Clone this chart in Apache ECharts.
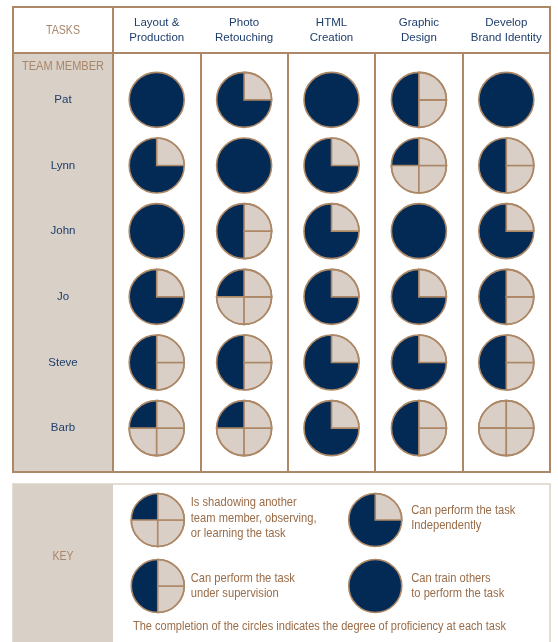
<!DOCTYPE html>
<html><head><meta charset="utf-8">
<script src="https://cdn.jsdelivr.net/npm/echarts@6/dist/echarts.min.js"></script>
<style>html,body{margin:0;padding:0;background:#fff}#c{width:558px;height:642px}</style>
</head><body><div id="c"></div>
<script>
// ---- data ----
var tasks = ['Layout &\nProduction', 'Photo\nRetouching', 'HTML\nCreation', 'Graphic\nDesign', 'Develop\nBrand Identity'];
var members = ['Pat', 'Lynn', 'John', 'Jo', 'Steve', 'Barb'];
// quarters filled (0-4), one array per member, in task order
var pat   = [4, 3, 4, 2, 4];
var lynn  = [3, 4, 3, 1, 2];
var john  = [4, 2, 3, 4, 3];
var jo    = [3, 1, 3, 3, 2];
var steve = [2, 2, 3, 3, 2];
var barb  = [1, 1, 3, 2, 0];
var keyLevels = [1, 3, 2, 4];
var keyTexts = ['Is shadowing another\nteam member, observing,\nor learning the task',
                'Can perform the task\nIndependently',
                'Can perform the task\nunder supervision',
                'Can train others\nto perform the task'];
var footnote = 'The completion of the circles indicates the degree of proficiency at each task';

// ---- styles ----
var NAVY = '#022a55', LIGHT = '#d9cfc6', TAN = '#ad8867', TANFILL = '#d9d0c8';
var NAMEC = '#1e3e6b', TANTEXT = '#a8866a', KEYTEXT = '#9a6c48';
var FONT = '"Liberation Sans", Arial, sans-serif';

var mctx = document.createElement('canvas').getContext('2d');
function fit(text, size, target) {
  mctx.font = size + 'px ' + FONT;
  return target / mctx.measureText(text).width;
}
var keyScale = fit('Is shadowing another', 13, 106);

var rows = [pat, lynn, john, jo, steve, barb];
var cells = [];
rows.forEach(function (r, yi) { r.forEach(function (v, xi) { cells.push([xi, yi, v]); }); });
var keyCells = keyLevels.map(function (v, i) { return [i % 2, Math.floor(i / 2), v, keyTexts[i]]; });

// quarters in fill order: top-left, bottom-left, bottom-right, top-right
var Q = [[-Math.PI, -Math.PI / 2], [Math.PI / 2, Math.PI], [0, Math.PI / 2], [-Math.PI / 2, 0]];
function ball(cx, cy, r, v) {
  var ch = [];
  if (v >= 4) {
    ch.push({ type: 'circle', shape: { cx: cx, cy: cy, r: r }, style: { fill: NAVY } });
  } else if (v > 0) {
    ch.push({ type: 'sector', shape: { cx: cx, cy: cy, r: r, r0: 0, startAngle: -Math.PI / 2 - v * Math.PI / 2, endAngle: -Math.PI / 2, clockwise: true }, style: { fill: NAVY } });
  }
  for (var j = v; j < 4; j++) {
    ch.push({ type: 'sector', shape: { cx: cx, cy: cy, r: r, r0: 0, startAngle: Q[j][0], endAngle: Q[j][1] }, style: { fill: LIGHT, stroke: TAN, lineWidth: 1.6 } });
  }
  ch.push({ type: 'circle', shape: { cx: cx, cy: cy, r: r }, style: { fill: 'none', stroke: TAN, lineWidth: 1.6 } });
  return ch;
}

function tText(x, y, text, size, target, color, align) {
  return { type: 'text', x: x, y: y, scaleX: fit(text, size, target),
    style: { text: text, fill: color, font: size + 'px ' + FONT, textAlign: align || 'center', textVerticalAlign: 'middle' } };
}

var chart = echarts.init(document.getElementById('c'), null, { renderer: 'canvas' });
chart.setOption({
  animation: false,
  backgroundColor: '#fff',
  textStyle: { fontFamily: FONT },
  grid: [
    { left: 113, right: 8, top: 53, bottom: 170, show: false },   // table frame
    { left: 113, right: 8, top: 67, bottom: 181, show: false },   // data
    { left: 49, width: 435, top: 487, height: 132, show: false }  // key
  ],
  xAxis: [
    { gridIndex: 0, type: 'category', data: tasks, position: 'top',
      axisLine: { show: false }, axisTick: { show: false },
      axisLabel: { interval: 0, color: NAMEC, fontSize: 11.5, lineHeight: 15, margin: 23, verticalAlign: 'middle', fontFamily: FONT },
      splitLine: { show: true, interval: 0, lineStyle: { color: TAN, width: 2 } } },
    { gridIndex: 1, type: 'category', data: tasks, show: false },
    { gridIndex: 2, type: 'category', data: ['a', 'b'], show: false }
  ],
  yAxis: [
    { gridIndex: 0, type: 'value', show: false, min: 0, max: 1 },
    { gridIndex: 1, type: 'category', data: members, inverse: true,
      axisLine: { show: false }, axisTick: { show: false }, splitLine: { show: false },
      axisLabel: { interval: 0, color: NAMEC, fontSize: 11.5, align: 'center', margin: 50, fontFamily: FONT } },
    { gridIndex: 2, type: 'category', data: ['a', 'b'], inverse: true, show: false }
  ],
  graphic: [
    { type: 'rect', shape: { x: 13, y: 7, width: 537, height: 465 }, style: { fill: 'none', stroke: TAN, lineWidth: 2 }, z: 10 },
    { type: 'rect', shape: { x: 13, y: 53, width: 100, height: 419 }, style: { fill: TANFILL, stroke: TAN, lineWidth: 2 }, z: -1 },
    { type: 'line', shape: { x1: 13, y1: 53, x2: 550, y2: 53 }, style: { stroke: TAN, lineWidth: 2 }, z: 10 },
    { type: 'line', shape: { x1: 113, y1: 7, x2: 113, y2: 472 }, style: { stroke: TAN, lineWidth: 2 }, z: 10 },
    tText(63, 31, 'TASKS', 12, 34, TANTEXT),
    tText(63, 67, 'TEAM MEMBER', 12, 82, TANTEXT),
    // key box
    { type: 'rect', shape: { x: 13, y: 484, width: 537, height: 170 }, style: { fill: '#fff', stroke: '#e4ddd6', lineWidth: 2 }, z: -2 },
    { type: 'rect', shape: { x: 13, y: 484, width: 100, height: 170 }, style: { fill: TANFILL }, z: -1 },
    tText(63, 557, 'KEY', 12, 21, TANTEXT),
    tText(133, 627, footnote, 12.5, 373, KEYTEXT, 'left')
  ],
  series: [
    { type: 'custom', xAxisIndex: 1, yAxisIndex: 1, data: cells, z: 5,
      renderItem: function (params, api) {
        var p = api.coord([api.value(0), api.value(1)]);
        return { type: 'group', children: ball(p[0], p[1], 27.5, api.value(2)) };
      } },
    { type: 'custom', xAxisIndex: 2, yAxisIndex: 2, data: keyCells, z: 5,
      renderItem: function (params, api) {
        var p = api.coord([api.value(0), api.value(1)]);
        var ch = ball(p[0], p[1], 26.5, api.value(2));
        ch.push({ type: 'text', x: p[0] + 33 + api.value(0) * 3, y: p[1] - 2 + api.value(1) * 2, scaleX: keyScale,
          style: { text: keyCells[params.dataIndex][3], fill: KEYTEXT, font: '13px ' + FONT, lineHeight: 15.5, textAlign: 'left', textVerticalAlign: 'middle' } });
        return { type: 'group', children: ch };
      } }
  ]
});
</script></body></html>
